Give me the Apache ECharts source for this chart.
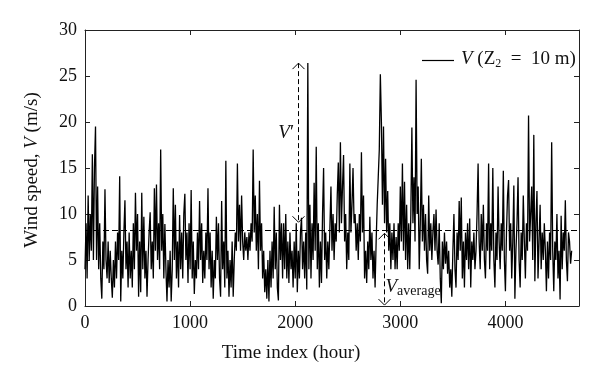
<!DOCTYPE html>
<html>
<head>
<meta charset="utf-8">
<script src="https://cdn.jsdelivr.net/npm/echarts@6/dist/echarts.min.js"></script>
<style>html,body{margin:0;padding:0;background:#fff}#c{width:600px;height:383px}</style>
</head>
<body>
<div id="c"></div>
<script>
// Hourly wind speed (m/s), read every 10 hours from the reference
const timeStep = 10;
const windSpeed = [
4,9,3,12,5,10,6,16.5,5,15,
19.5,5,13,4,9,3,0.8,7,4,12.7,
5,3,7,2.5,6,3,0.9,5,2,7,
3,8,5,14.1,0.5,6,3,8,11.5,4,
7,2,8,3,6,2,9,4,12.3,6,
10,1,7,1.5,12.3,4,9.7,3,6,1,
5,8,10.2,4,7,3,12.8,6,13.2,5,
9,4,17,6,10,3,8.9,4,0.5,5,
2,6,0.5,4,12.8,5,11,3,7,2,
9.9,4,8,3,10,12.2,5,8,2.5,9,
4,12.6,3,7,1.3,5,3,8,4,11.4,
5,9,2.5,6,3,8,5,12.8,4,8,
2,6,0.8,5,3,9.7,5,9,3,1,
11.4,4,7,2,15.8,3,6,1,5,2,
7,1,5,8,6,15.5,7,11,6,12,
7,5,8,6,7.5,5,8,6,9,7,
17,8,12,6,10,4,13.6,6,9,3,
6,1.5,4,0.8,5,0.5,6,2,7,3,
10.8,4,8,2,0.6,11,5,9,3,9,
4,10,3,7,2.5,8,4,6,2,7,
3,9,1.5,6,3,8,9.6,4,7,3,
8,1.8,26.4,4,11,3,9,5,13.4,6,
17.3,4,9,2,7,2.5,10,15,5,8,
3,7,4,8.5,13,6,10,5,9,7,
12,15.6,8,17.8,9,13,16.4,7,10,4,
8,5,15.5,8,11,15,9,10,6,9,
5,10,7,16.7,8,12,3,6,2.5,7,
4,9.7,5,8,3,6,2,7,11,14,
17,25.2,20,11,19.5,9,16,8,12.5,6,
9,4,8,5,9,4,7.5,4,9,6,
13,7,15.5,6,13.5,5,11,4,9,4,
10,19.4,9,14,7,24.6,10,13,4,9,
16,7,11,6,10,5,3.5,12,6,9,
5,8,10,6,10.5,6,4.5,9,3,0.3,
7,4,8,4.6,7,3.5,6,2,4,1,
6,10,4,2,8,5,11.4,6,11.8,3,
7,2,8,5,9,4,9.5,2,7,5,
8,4,6,10,15.5,7,4,10,6,11,
5,3,9,6,15.5,4,9,6,15,5,
2,8,5,13,7,4,9,6,14.7,5,
1.6,8,12,13.7,6,9,3,7,13.1,0.8,
6,9,14,5,2,8,5,12,7,3,
9,6,20.7,7,10,13,5,18.6,2.7,9,
12.5,3,7,11,4,8,5,9,6,1.6,
7,3,8,5,17.8,6,1.6,7,5,10,
3,6,0.7,9.8,4,8,6,11.5,5,2.7,
8,7,4.6,6
];
const averageSpeed = 8.2;
const xTicks = [0, 1000, 2000, 3000, 4000];
const yTicks = [0, 5, 10, 15, 20, 25, 30];
const xMax = 4700;
// annotation arrows (data coordinates)
const vPrimeArrow = {hour: 2030, from: 9.1, to: 26.4};
const vAvgArrow = {hour: 2840, from: 0.1, to: 7.9};

const FONT = "'Liberation Serif','DejaVu Serif',serif";
const seriesData = windSpeed.map((v, i) => [i * timeStep, v]);

const chart = echarts.init(document.getElementById('c'), null, {renderer: 'canvas'});
const axisCommon = {
  axisLine: {show: true, onZero: false, lineStyle: {color: '#222', width: 1}},
  axisTick: {show: true, inside: true, length: 5, lineStyle: {color: '#222', width: 1}},
  splitLine: {show: false}
};
chart.setOption({
  animation: false,
  grid: {left: 85, right: 21, top: 30, bottom: 77, containLabel: false},
  xAxis: [
    Object.assign({type: 'value', min: 0, max: xMax, interval: 1000, position: 'bottom',
      axisLabel: {show: true, margin: 8, color: '#111', fontFamily: FONT, fontSize: 18, showMaxLabel: false,
        formatter: v => xTicks.indexOf(v) >= 0 ? String(v) : ''}}, axisCommon),
    Object.assign({type: 'value', min: 0, max: xMax, interval: 1000, position: 'top',
      axisLabel: {show: false}}, axisCommon)
  ],
  yAxis: [
    Object.assign({type: 'value', min: 0, max: 30, interval: 5, position: 'left',
      axisLabel: {show: true, margin: 8, color: '#111', fontFamily: FONT, fontSize: 18,
        formatter: v => yTicks.indexOf(v) >= 0 ? String(v) : ''}}, axisCommon),
    Object.assign({type: 'value', min: 0, max: 30, interval: 5, position: 'right',
      axisLabel: {show: false}}, axisCommon)
  ],
  series: [{
    type: 'line',
    data: seriesData,
    showSymbol: false,
    symbol: 'none',
    lineStyle: {color: '#000', width: 1.3},
    markLine: {
      silent: true, symbol: 'none', label: {show: false},
      lineStyle: {color: '#000', width: 1, type: [6, 3]},
      data: [{yAxis: averageSpeed}]
    }
  }]
});

function px(h, v) { return chart.convertToPixel({xAxisIndex: 0, yAxisIndex: 0}, [h, v]); }
function arrow(a) {
  const top = px(a.hour, a.to), bot = px(a.hour, a.from);
  const x = Math.round(top[0]) + 0.5;
  const st = {stroke: '#000', lineWidth: 1, fill: null};
  return [
    {type: 'line', shape: {x1: x, y1: top[1], x2: x, y2: bot[1]}, style: Object.assign({lineDash: [5, 3]}, st)},
    {type: 'polyline', shape: {points: [[x - 6, top[1] + 6], [x, top[1]], [x + 6, top[1] + 6]]}, style: st},
    {type: 'polyline', shape: {points: [[x - 6, bot[1] - 6], [x, bot[1]], [x + 6, bot[1] - 6]]}, style: st}
  ];
}
const a1 = px(vPrimeArrow.hour, 18), a2 = px(vAvgArrow.hour, 2.3);
chart.setOption({
  graphic: [].concat(arrow(vPrimeArrow), arrow(vAvgArrow), [
    {type: 'text', x: a1[0] - 20, y: 133, style: {
      text: '{i|V}{n|′}', verticalAlign: 'middle', align: 'left',
      rich: {i: {fontFamily: FONT, fontStyle: 'italic', fontSize: 19, fill: '#111'},
             n: {fontFamily: FONT, fontSize: 19, fill: '#111'}}}},
    {type: 'text', x: a2[0] + 2, y: 287, style: {
      text: '{i|V}{s|average}', verticalAlign: 'middle', align: 'left',
      rich: {i: {fontFamily: FONT, fontStyle: 'italic', fontSize: 19, lineHeight: 22, fill: '#111'},
             s: {fontFamily: FONT, fontSize: 14, lineHeight: 14, verticalAlign: 'bottom', fill: '#111'}}}},
    // legend
    {type: 'line', shape: {x1: 422, y1: 60.5, x2: 454, y2: 60.5}, style: {stroke: '#000', lineWidth: 1.2}},
    {type: 'text', x: 461, y: 59, style: {
      text: '{i|V}{n| (Z}{s|2}{n|  =  10 m)}', verticalAlign: 'middle', align: 'left',
      rich: {i: {fontFamily: FONT, fontStyle: 'italic', fontSize: 19, lineHeight: 22, fill: '#111'},
             n: {fontFamily: FONT, fontSize: 19, lineHeight: 22, fill: '#111'},
             s: {fontFamily: FONT, fontSize: 12, lineHeight: 12, verticalAlign: 'bottom', fill: '#111'}}}},
    // axis titles
    {type: 'text', x: 291, y: 353, style: {text: 'Time index (hour)', align: 'center', verticalAlign: 'middle',
      fontFamily: FONT, fontSize: 19, fill: '#111'}},
    {type: 'text', x: 32, y: 170, rotation: Math.PI / 2, style: {
      text: '{n|Wind speed, }{i|V}{n| (m/s)}', align: 'center', verticalAlign: 'middle',
      rich: {i: {fontFamily: FONT, fontStyle: 'italic', fontSize: 19, fill: '#111'},
             n: {fontFamily: FONT, fontSize: 19, fill: '#111'}}}}
  ])
});
</script>
</body>
</html>
